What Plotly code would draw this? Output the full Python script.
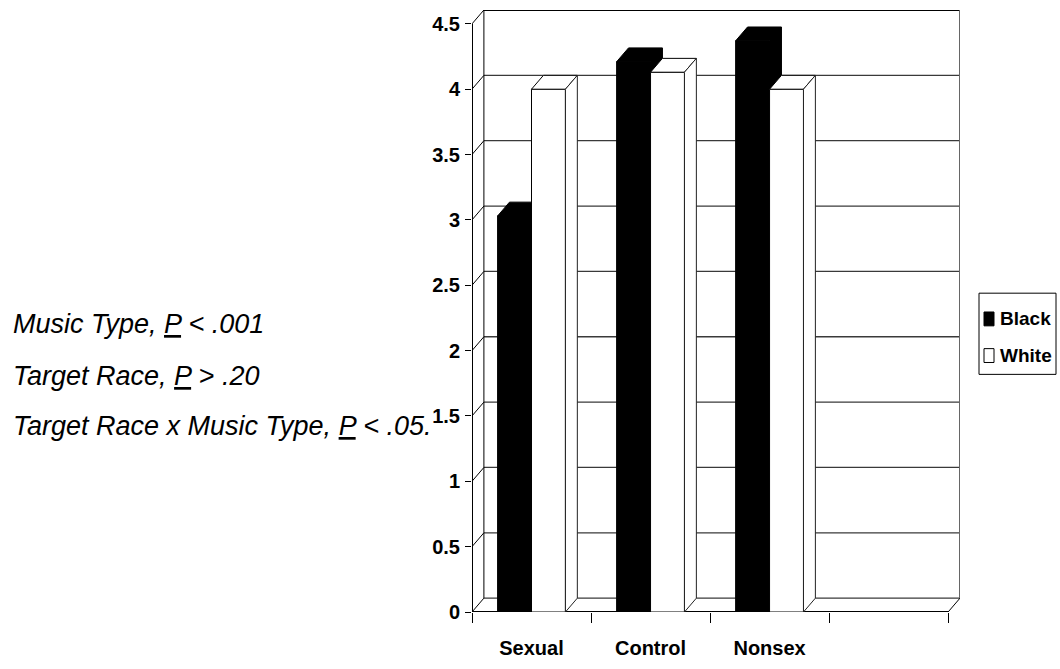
import plotly.graph_objects as go

# ---------------- data ----------------
categories = ["Sexual", "Control", "Nonsex", ""]
series_names = ["Black", "White"]
black_values = [3.03, 4.21, 4.37]
white_values = [4.00, 4.13, 4.00]
y_tick_values = [0, 0.5, 1, 1.5, 2, 2.5, 3, 3.5, 4, 4.5]
y_tick_labels = ["0", "0.5", "1", "1.5", "2", "2.5", "3", "3.5", "4", "4.5"]
note_lines = [
    "Music Type, <span style='text-decoration:underline'>P</span> &lt; .001",
    "Target Race, <span style='text-decoration:underline'>P</span> &gt; .20",
    "Target Race x Music Type, <span style='text-decoration:underline'>P</span> &lt; .05.",
]

# ---------------- layout constants ----------------
W, H = 1060, 669
ML, MT = 472, 10
PW, PH = 488, 608
MR, MB = W - ML - PW, H - MT - PH
FONT = "Liberation Sans, Arial, sans-serif"

n_cat = len(categories)
x_pos = list(range(n_cat))
DX = 0.1            # depth offset along x (axis units)
DY = 0.106          # depth offset along y (axis units)
x_lo, x_hi = -0.5, n_cat - 0.5 + DX
y_lo, y_hi = 0, max(y_tick_values) + DY
BARGAP = 0.43
BW = (1 - BARGAP) / 2


def px_x(px):
    return (px - ML) / PW


def px_y(py):
    return (H - MB - py) / PH


shapes = []
GRID = "#3a3a3a"
top_v = max(y_tick_values)
# back-wall gridlines and connecting diagonals
for v in y_tick_values:
    shapes.append(dict(type="line", xref="x", yref="y", layer="below",
                       x0=x_lo + DX, x1=x_hi, y0=v + DY, y1=v + DY,
                       line=dict(color="black" if v == top_v else GRID,
                                 width=2 if v == top_v else 1.3)))
    shapes.append(dict(type="line", xref="x", yref="y", layer="below",
                       x0=x_lo, x1=x_lo + DX, y0=v, y1=v + DY,
                       line=dict(color="black", width=1)))
# back wall verticals
shapes.append(dict(type="line", xref="x", yref="y", layer="below",
                   x0=x_lo + DX, x1=x_lo + DX, y0=DY, y1=y_hi,
                   line=dict(color="black", width=1)))
shapes.append(dict(type="line", xref="x", yref="y", layer="below",
                   x0=x_hi, x1=x_hi, y0=DY, y1=y_hi,
                   line=dict(color="#666666", width=2)))
# front axis line and front floor edge
shapes.append(dict(type="line", xref="x", yref="y", layer="below",
                   x0=x_lo, x1=x_lo, y0=0, y1=top_v,
                   line=dict(color="black", width=2)))
shapes.append(dict(type="line", xref="x", yref="y", layer="below",
                   x0=x_lo, x1=n_cat - 0.5, y0=0, y1=0,
                   line=dict(color="black", width=2)))
shapes.append(dict(type="line", xref="x", yref="y", layer="below",
                   x0=n_cat - 0.5, x1=x_hi, y0=0, y1=DY,
                   line=dict(color="black", width=1)))

# hidden top/side faces of the black columns (behind the front bars)
for i, v in enumerate(black_values):
    x0, x1 = x_pos[i] - BW, x_pos[i]
    path = (f"M {x0},{v} L {x0 + DX},{v + DY} L {x1 + DX},{v + DY} "
            f"L {x1 + DX},{DY} L {x1},0 L {x1},{v} Z")
    shapes.append(dict(type="path", xref="x", yref="y", layer="below", path=path,
                       fillcolor="black", line=dict(color="black", width=1)))

fig = go.Figure()
fig.add_trace(go.Bar(x=x_pos[:len(black_values)], y=black_values, name=series_names[0],
                     marker=dict(color="black", line=dict(color="black", width=1)),
                     showlegend=False, hoverinfo="skip"))
fig.add_trace(go.Bar(x=x_pos[:len(white_values)], y=white_values, name=series_names[1],
                     marker=dict(color="white", line=dict(color="black", width=1)),
                     showlegend=False, hoverinfo="skip"))

# visible top and side faces of the white columns
for i, v in enumerate(white_values):
    x0, x1 = x_pos[i], x_pos[i] + BW
    fig.add_trace(go.Scatter(
        x=[x0, x1, x1 + DX, x0 + DX, x0], y=[v, v, v + DY, v + DY, v],
        mode="lines", fill="toself", fillcolor="white",
        line=dict(color="black", width=1), showlegend=False, hoverinfo="skip"))
    fig.add_trace(go.Scatter(
        x=[x1, x1 + DX, x1 + DX, x1, x1], y=[0, DY, v + DY, v, 0],
        mode="lines", fill="toself", fillcolor="white",
        line=dict(color="#222222", width=1), showlegend=False, hoverinfo="skip"))

# note text on the left
note_y = [327, 380, 430]
annotations = []
for txt, py in zip(note_lines, note_y):
    annotations.append(dict(text=txt, xref="paper", yref="paper", x=px_x(11), y=px_y(py),
                            xanchor="left", yanchor="middle", showarrow=False,
                            font=dict(family=FONT, size=27, color="black", style="italic")))

# legend box (drawn manually to match the compact original)
shapes.append(dict(type="rect", xref="paper", yref="paper",
                   x0=px_x(979), x1=px_x(1056), y0=px_y(296), y1=px_y(378),
                   line=dict(color="black", width=1), fillcolor="white"))
leg_y = [322, 359]
leg_fill = ["black", "white"]
for name, py, fc in zip(series_names, leg_y, leg_fill):
    shapes.append(dict(type="rect", xref="paper", yref="paper",
                       x0=px_x(984), x1=px_x(994), y0=px_y(py + 7), y1=px_y(py - 7),
                       line=dict(color="black", width=1), fillcolor=fc))
    annotations.append(dict(text=name, xref="paper", yref="paper", x=px_x(998), y=px_y(py),
                            xanchor="left", yanchor="middle", showarrow=False,
                            font=dict(family=FONT, size=19, color="black", weight="bold")))

fig.update_layout(
    width=W, height=H,
    margin=dict(l=ML, r=MR, t=MT, b=MB, pad=0),
    paper_bgcolor="white", plot_bgcolor="white",
    barmode="group", bargap=BARGAP, bargroupgap=0,
    shapes=shapes, annotations=annotations,
    showlegend=False, hovermode=False,
    xaxis=dict(range=[x_lo, x_hi], showgrid=False, zeroline=False, showline=False,
               tickmode="array", tickvals=x_pos[:3], ticktext=categories[:3], ticks="",
               ticklabelstandoff=22,
               tickfont=dict(family=FONT, size=20, color="black", weight="bold"),
               minor=dict(tickmode="linear", tick0=-0.5, dtick=1, ticks="outside",
                          ticklen=10, tickwidth=1, tickcolor="black", showgrid=False)),
    yaxis=dict(range=[y_lo, y_hi], showgrid=False, zeroline=False, showline=False,
               tickmode="array", tickvals=y_tick_values, ticktext=y_tick_labels,
               ticks="outside", ticklen=6, tickwidth=1, tickcolor="black",
               ticklabelstandoff=1,
               tickfont=dict(family=FONT, size=20, color="black", weight="bold")),
)

fig.write_html("out.html",
               config={"displayModeBar": False, "staticPlot": True},
               post_script="document.body.style.margin='0';"
                           "document.body.style.overflow='hidden';")
